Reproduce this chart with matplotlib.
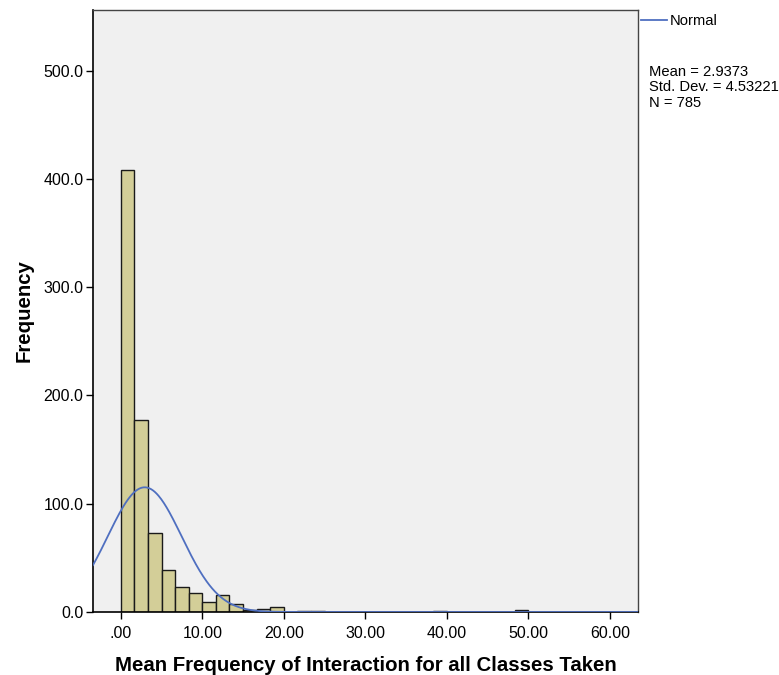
import numpy as np
import matplotlib
matplotlib.use("Agg")
import matplotlib.pyplot as plt

plt.rcParams['font.family'] = ['Liberation Sans', 'DejaVu Sans']

# Histogram data (bin width 5/3, starting at 0)
bin_width = 5.0 / 3.0
counts = [408, 177, 73, 39, 23, 18, 9, 16, 7, 2, 3, 5,
          0, 1, 1, 0, 0, 0, 0, 0, 0, 0, 0, 1,
          0, 0, 0, 0, 0, 2]
mean = 2.9373
std = 4.53221
n = 785

x_ticks = [0, 10, 20, 30, 40, 50, 60]
x_tick_labels = ['.00', '10.00', '20.00', '30.00', '40.00', '50.00', '60.00']
y_ticks = [0, 100, 200, 300, 400, 500]
y_tick_labels = ['0.0', '100.0', '200.0', '300.0', '400.0', '500.0']

fig = plt.figure(figsize=(7.79, 6.75), dpi=100)
ax = fig.add_axes([93/779, 63/675, (638-93)/779, (612-10)/675])
ax.set_facecolor('#F0F0F0')

lefts = np.arange(len(counts)) * bin_width
ax.bar(lefts, counts, width=bin_width, align='edge', color='#D3CE98',
       edgecolor='#1a1a1a', linewidth=1.0, zorder=2)

xlim = (-3.4, 63.43)
xs = np.linspace(xlim[0], xlim[1], 600)
ys = n * bin_width / (std * np.sqrt(2 * np.pi)) * np.exp(-0.5 * ((xs - mean) / std) ** 2)
ax.plot(xs, ys, color='#4F6FC0', linewidth=1.3, zorder=3)

ax.set_xlim(*xlim)
ax.set_ylim(0, 556)
ax.set_xticks(x_ticks)
ax.set_xticklabels(x_tick_labels, fontsize=11.5)
ax.set_yticks(y_ticks)
ax.set_yticklabels(y_tick_labels, fontsize=11.5)
ax.tick_params(direction='out', length=5, width=1, color='black')
ax.tick_params(axis='x', pad=5)
ax.tick_params(axis='y', pad=2)
for side in ['left', 'bottom']:
    ax.spines[side].set_color('black')
    ax.spines[side].set_linewidth(1.2)
for side in ['top', 'right']:
    ax.spines[side].set_color('#444444')
    ax.spines[side].set_linewidth(1.0)

ax.set_xlabel('Mean Frequency of Interaction for all Classes Taken',
              fontsize=14.7, fontweight='bold', labelpad=11)
ax.set_ylabel('Frequency', fontsize=14.7, fontweight='bold', labelpad=7)

# Legend and stats
fig.lines.append(plt.Line2D([641/779, 667/779], [1 - 20/675, 1 - 20/675],
                            transform=fig.transFigure, color='#4F6FC0', linewidth=1.3))
fig.text(670/779, 1 - 21/675, 'Normal', fontsize=10.6, va='center', ha='left')
fig.text(649/779, 1 - 64.5/675, 'Mean = 2.9373\nStd. Dev. = 4.53221\nN = 785',
         fontsize=10.6, va='top', ha='left', linespacing=1.17)

fig.savefig('out.png', dpi=100)
